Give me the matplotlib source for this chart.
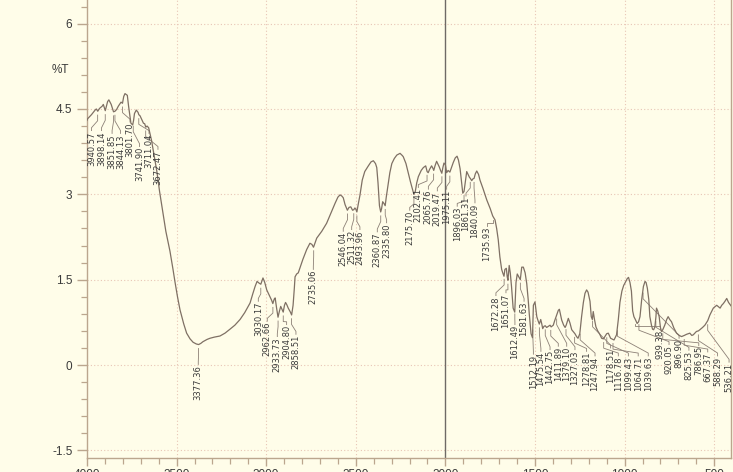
import numpy as np
import matplotlib.pyplot as plt
from matplotlib.ticker import MultipleLocator, FixedLocator

# ---- spectrum (wavenumber in cm-1, transmittance in %T) ----
wavenumber = [
    4000, 3996, 3975, 3955, 3948, 3940, 3930, 3915, 3909, 3898, 3885, 3878,
    3865, 3852, 3844, 3835, 3825, 3810, 3802, 3795, 3788, 3775, 3768, 3755,
    3745, 3740, 3735, 3725, 3715, 3711, 3704, 3695, 3685, 3678, 3672, 3665,
    3656, 3640, 3625, 3610, 3595, 3580, 3560, 3537, 3520, 3509, 3495, 3481,
    3460, 3444, 3425, 3408, 3390, 3377, 3365, 3353, 3330, 3314, 3290, 3258,
    3230, 3202, 3175, 3146, 3120, 3090, 3075, 3062, 3051, 3040, 3030, 3018,
    3008, 2997, 2985, 2979, 2970, 2963, 2955, 2950, 2942, 2934, 2926, 2919,
    2912, 2905, 2898, 2892, 2885, 2877, 2865, 2858, 2850, 2843, 2839, 2830,
    2821, 2810, 2795, 2774, 2756, 2745, 2736, 2728, 2718, 2690, 2663, 2640,
    2616, 2600, 2588, 2578, 2570, 2560, 2547, 2538, 2528, 2518, 2511, 2505,
    2500, 2494, 2485, 2477, 2464, 2450, 2430, 2415, 2402, 2390, 2383, 2376,
    2368, 2361, 2356, 2350, 2343, 2336, 2330, 2324, 2310, 2299, 2285, 2271,
    2253, 2240, 2235, 2220, 2207, 2195, 2183, 2176, 2168, 2160, 2151, 2135,
    2123, 2110, 2102, 2096, 2088, 2077, 2070, 2065, 2058, 2049, 2040, 2034,
    2027, 2020, 2014, 2008, 2000, 1993, 1985, 1975, 1965, 1956, 1945, 1935,
    1927, 1918, 1910, 1903, 1896, 1890, 1881, 1875, 1866, 1861, 1853, 1847,
    1840, 1833, 1825, 1815, 1807, 1790, 1769, 1750, 1736, 1723, 1714, 1705,
    1696, 1686, 1680, 1673, 1668, 1660, 1655, 1651, 1644, 1638, 1631, 1622,
    1613, 1606, 1599, 1592, 1582, 1574, 1565, 1555, 1546, 1538, 1532, 1522,
    1514, 1509, 1500, 1490, 1483, 1476, 1468, 1462, 1457, 1450, 1443, 1435,
    1425, 1416, 1410, 1398, 1390, 1379, 1370, 1364, 1355, 1351, 1340, 1332,
    1326, 1314, 1305, 1295, 1285, 1277, 1268, 1260, 1250, 1240, 1230, 1221,
    1212, 1204, 1193, 1186, 1180, 1175, 1168, 1160, 1150, 1140, 1128, 1118,
    1110, 1100, 1091, 1078, 1065, 1059, 1045, 1035, 1026, 1015, 1005, 998,
    985, 978, 970, 962, 955, 948, 940, 930, 922, 914, 905, 895,
    886, 880, 873, 865, 859, 850, 844, 838, 831, 825, 822, 815,
    807, 800, 794, 787, 776, 765, 757, 748, 738, 725, 710, 695,
    682, 667, 654, 636, 625, 617, 599, 588, 580, 565, 552, 536,
    524, 505, 486, 475, 467, 458, 449, 440, 430, 420, 411, 406,
]
transmittance = [
    4.30, 4.33, 4.40, 4.48, 4.50, 4.46, 4.51, 4.55, 4.58, 4.47, 4.63, 4.66,
    4.58, 4.45, 4.46, 4.49, 4.55, 4.62, 4.60, 4.72, 4.77, 4.74, 4.55, 4.25,
    4.22, 4.30, 4.42, 4.48, 4.44, 4.40, 4.38, 4.32, 4.25, 4.24, 4.18, 4.20,
    4.17, 3.95, 3.68, 3.40, 3.05, 2.75, 2.35, 2.00, 1.68, 1.46, 1.20, 0.97,
    0.72, 0.56, 0.46, 0.40, 0.37, 0.36, 0.38, 0.41, 0.45, 0.47, 0.49, 0.51,
    0.56, 0.63, 0.70, 0.80, 0.92, 1.09, 1.25, 1.38, 1.47, 1.44, 1.42, 1.53,
    1.45, 1.32, 1.24, 1.20, 1.14, 1.08, 1.16, 1.18, 1.00, 0.84, 0.95, 1.03,
    0.98, 0.93, 1.05, 1.10, 1.06, 1.00, 0.93, 0.88, 1.05, 1.35, 1.55, 1.60,
    1.62, 1.72, 1.86, 2.03, 2.14, 2.12, 2.07, 2.14, 2.23, 2.35, 2.49, 2.66,
    2.84, 2.95, 2.99, 2.97, 2.94, 2.82, 2.72, 2.77, 2.78, 2.72, 2.73, 2.76,
    2.74, 2.69, 2.85, 2.98, 3.25, 3.40, 3.50, 3.57, 3.59, 3.54, 3.47, 3.20,
    2.80, 2.69, 2.75, 2.87, 2.84, 2.80, 2.95, 3.08, 3.38, 3.54, 3.63, 3.69,
    3.72, 3.68, 3.66, 3.54, 3.37, 3.22, 3.08, 3.00, 3.05, 3.20, 3.31, 3.42,
    3.47, 3.50, 3.40, 3.38, 3.44, 3.50, 3.46, 3.42, 3.50, 3.58, 3.52, 3.48,
    3.42, 3.37, 3.47, 3.55, 3.52, 3.38, 3.42, 3.39, 3.48, 3.56, 3.64, 3.67,
    3.60, 3.45, 3.22, 3.02, 3.05, 3.19, 3.40, 3.36, 3.30, 3.28, 3.24, 3.27,
    3.28, 3.36, 3.41, 3.35, 3.25, 3.10, 2.90, 2.75, 2.62, 2.55, 2.40, 2.20,
    1.90, 1.68, 1.62, 1.56, 1.68, 1.70, 1.55, 1.49, 1.75, 1.62, 1.38, 1.00,
    0.93, 1.45, 1.60, 1.56, 1.50, 1.72, 1.72, 1.62, 1.43, 1.15, 0.90, 0.55,
    0.48, 1.05, 1.11, 0.85, 0.78, 0.72, 0.80, 0.72, 0.64, 0.68, 0.69, 0.66,
    0.68, 0.70, 0.67, 0.70, 0.78, 0.88, 0.96, 0.98, 0.85, 0.79, 0.70, 0.66,
    0.70, 0.82, 0.74, 0.62, 0.58, 0.55, 0.50, 0.47, 0.55, 0.85, 1.10, 1.26,
    1.32, 1.28, 1.12, 0.85, 0.80, 0.94, 0.80, 0.67, 0.60, 0.55, 0.47, 0.46,
    0.50, 0.55, 0.56, 0.47, 0.45, 0.44, 0.53, 0.80, 1.10, 1.30, 1.40, 1.44,
    1.52, 1.54, 1.45, 1.30, 0.95, 0.85, 0.80, 0.73, 0.76, 0.85, 1.14, 1.38,
    1.47, 1.45, 1.35, 1.15, 0.85, 0.70, 0.63, 0.62, 0.67, 0.85, 1.00, 0.95,
    0.85, 0.66, 0.59, 0.62, 0.70, 0.80, 0.85, 0.80, 0.76, 0.65, 0.56, 0.52,
    0.50, 0.52, 0.54, 0.56, 0.52, 0.53, 0.59, 0.60, 0.62, 0.66, 0.70, 0.78,
    0.88, 1.00, 1.05, 1.02, 1.00, 1.05, 1.08, 1.12, 1.17, 1.10, 1.06, 1.04,
]

# ---- peak annotations ----
peak_values = [
    3940.57, 3898.14, 3851.85, 3844.13, 3801.70, 3741.90, 3711.04, 3672.47,
    3377.36, 3030.17, 2962.66, 2933.73, 2904.80, 2858.51, 2735.06,
    2546.04, 2511.32, 2493.96, 2360.87, 2335.80, 2175.70, 2102.41, 2065.76,
    2019.47, 1975.11, 1896.03, 1861.31, 1840.09, 1735.93, 1672.28, 1651.07,
    1612.49, 1581.63, 1512.19, 1475.54, 1442.75, 1411.89, 1379.10, 1327.03,
    1278.81, 1247.94, 1178.51, 1116.78, 1099.43, 1064.71, 1039.63, 939.38,
    920.05, 896.90, 825.53, 786.95, 667.37, 588.29, 536.21,
]
# where each label's text column sits (cm-1) and where its top edge is (%T)
label_x = [
    3975, 3919, 3860, 3813, 3760, 3707, 3654, 3604,
    3379, 3044, 2994, 2938, 2886, 2834, 2737,
    2570, 2523, 2477, 2380, 2328, 2199, 2151, 2095,
    2045, 1993, 1934, 1885, 1835, 1770, 1718, 1662,
    1612, 1561, 1509, 1467, 1416, 1370, 1323, 1277,
    1212, 1165, 1078, 1035, 979, 924, 868, 805,
    752, 696, 641, 586, 536, 481, 417,
]
label_top = [
    4.11, 4.11, 4.06, 4.06, 4.26, 3.83, 4.06, 3.78,
    0.00, 1.11, 0.76, 0.49, 0.70, 0.53, 1.67,
    2.34, 2.37, 2.37, 2.33, 2.49, 2.71, 3.11, 3.08,
    3.05, 3.08, 2.78, 2.96, 2.84, 2.43, 1.21, 1.26,
    0.70, 1.11, 0.18, 0.23, 0.26, 0.32, 0.32, 0.26,
    0.23, 0.15, 0.29, 0.15, 0.15, 0.15, 0.15, 0.62,
    0.35, 0.46, 0.25, 0.33, 0.22, 0.15, 0.04,
]

x_major = [4000, 3500, 3000, 2500, 2000, 1500, 1000, 500]
y_major = [-1.5, 0, 1.5, 3, 4.5, 6]

BG = "#fffde9"
GRID = "#e8c6b6"
AXIS = "#bba68e"
CURVE = "#7f7064"
LEADER = "#8c8076"
TEXT = "#3a3a3a"

W, H = 733, 472
fig = plt.figure(figsize=(W / 100, H / 100), dpi=100, facecolor=BG)
ax = fig.add_axes([87 / W, 14 / H, 644 / W, 458 / H], facecolor=BG)

ax.set_xlim(4000, 406.2)
ax.set_ylim(-1.634, 6.415)

# dotted grid, solid divider at 2000 cm-1
for xv in x_major:
    if xv == 2000:
        ax.axvline(xv, color="#6f6a66", lw=1.0, zorder=1.5)
    elif xv != 4000:
        ax.axvline(xv, color=GRID, lw=0.8, ls=(0, (1, 2)), zorder=1)
for yv in y_major:
    ax.axhline(yv, color=GRID, lw=0.8, ls=(0, (1, 2)), zorder=1)

# spectrum
ax.plot(wavenumber, transmittance, color=CURVE, lw=0.9, zorder=3)

# peak labels with leader lines
label_font = ["Liberation Sans Narrow", "DejaVu Sans Condensed", "DejaVu Sans"]
for val, tx, ty in zip(peak_values, label_x, label_top):
    yc = np.interp(val, wavenumber[::-1], transmittance[::-1])
    start = yc - 0.07
    knee2 = ty + 0.06
    knee1 = max(start - 0.10, knee2)
    ax.plot([val, val, tx, tx], [start, knee1, knee2, ty + 0.01],
            color=LEADER, lw=0.6, zorder=2)
    ax.text(tx, ty, f"{val:.2f}", rotation=90, ha="center", va="top",
            fontsize=6.0, color=TEXT, family=label_font, zorder=4)

# axes styling
for side in ("top",):
    ax.spines[side].set_visible(False)
for side in ("left", "bottom", "right"):
    ax.spines[side].set_color(AXIS)
    ax.spines[side].set_linewidth(1.0)

ax.xaxis.set_major_locator(FixedLocator(x_major))
ax.xaxis.set_minor_locator(MultipleLocator(100))
ax.yaxis.set_major_locator(FixedLocator(y_major))
ax.yaxis.set_minor_locator(MultipleLocator(0.3))
ax.set_xticklabels([str(v) for v in x_major])
ax.set_yticklabels(["-1.5", "0", "1.5", "3", "4.5", "6"])

ax.tick_params(axis="both", which="major", direction="out", color=AXIS,
               labelcolor=TEXT, labelsize=8.5, width=1.0)
ax.tick_params(axis="x", which="major", length=6, pad=2)
ax.tick_params(axis="y", which="major", length=7.5, pad=3)
ax.tick_params(axis="both", which="minor", direction="out", color=AXIS,
               length=4.5, width=0.9)
ax.tick_params(axis="y", which="both", right=False)
for lbl in ax.get_xticklabels() + ax.get_yticklabels():
    lbl.set_family("Liberation Sans")

ax.text(-0.042, 5.18, "%T", transform=ax.get_yaxis_transform(),
        ha="center", va="center", fontsize=8.5, color=TEXT,
        family="Liberation Sans")

fig.savefig("out.png", dpi=100, facecolor=BG)
